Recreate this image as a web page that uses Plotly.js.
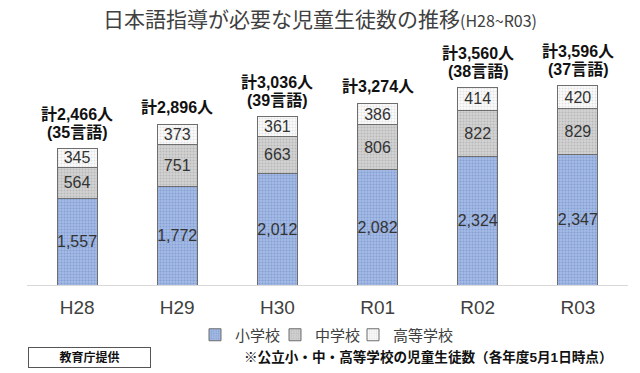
<!DOCTYPE html>
<html>
<head>
<meta charset="utf-8">
<script src="https://cdn.plot.ly/plotly-3.0.1.min.js"></script>
<style>html,body{margin:0;padding:0;background:#fff;}#chart{width:640px;height:373px;}</style>
</head>
<body>
<div id="chart"></div>
<script>
const years = ['H28', 'H29', 'H30', 'R01', 'R02', 'R03'];
const elementary = [1557, 1772, 2012, 2082, 2324, 2347];
const juniorHigh = [564, 751, 663, 806, 822, 829];
const highSchool = [345, 373, 361, 386, 414, 420];
const languages = [35, null, 39, null, 38, 37];
const seriesNames = ['小学校', '中学校', '高等学校'];

const totals = years.map((_, i) => elementary[i] + juniorHigh[i] + highSchool[i]);
const fmt = n => n.toLocaleString('en-US');

const FONT = 'Liberation Sans, Arial, Noto Sans CJK JP, sans-serif';
const lineStyle = {color: '#6e6e6e', width: 1};

function barTrace(name, vals, bg, fg, legendId) {
  return {
    type: 'bar', name: name, x: years, y: vals,
    width: 0.4, legend: legendId,
    text: vals.map(fmt), textposition: 'inside', insidetextanchor: 'middle',
    textangle: 0, constraintext: 'none',
    textfont: {family: FONT, size: 16, color: '#333333'},
    marker: {color: bg, line: lineStyle,
      pattern: {shape: '.', bgcolor: bg, fgcolor: fg, size: 3, solidity: 0.35}},
    hoverinfo: 'skip'
  };
}

const data = [
  barTrace(seriesNames[0], elementary, '#a3bbe6', '#869fd2', 'legend'),
  barTrace(seriesNames[1], juniorHigh, '#d4d4d4', '#b8b8b8', 'legend2'),
  barTrace(seriesNames[2], highSchool, '#fcfcfc', '#e2e2e2', 'legend3')
];

const annotations = [];
years.forEach((yr, i) => {
  const hasLang = languages[i] !== null;
  annotations.push({
    x: yr, y: totals[i], xref: 'x', yref: 'y',
    text: '計' + fmt(totals[i]) + '人', showarrow: false,
    yanchor: 'middle', yshift: hasLang ? 34 : 17,
    font: {family: FONT, size: 16, color: '#111111', weight: 'bold'}
  });
  if (hasLang) {
    annotations.push({
      x: yr, y: totals[i], xref: 'x', yref: 'y',
      text: '(' + languages[i] + '言語)', showarrow: false,
      yanchor: 'middle', yshift: 16,
      font: {family: FONT, size: 16, color: '#111111', weight: 'bold'}
    });
  }
});

annotations.push({
  xref: 'paper', yref: 'paper', x: (89.5 - 27) / 601, y: (285 - 357) / 222,
  xanchor: 'center', yanchor: 'middle', showarrow: false,
  text: '教育庁提供', width: 119, height: 17, borderpad: 1,
  bordercolor: '#555555', borderwidth: 1, bgcolor: '#ffffff',
  font: {family: FONT, size: 12, color: '#111111', weight: 'bold'}
});
annotations.push({
  xref: 'paper', yref: 'paper', x: (428.5 - 27) / 601, y: (285 - 357) / 222,
  xanchor: 'center', yanchor: 'middle', showarrow: false,
  text: '※公立小・中・高等学校の児童生徒数（各年度5月1日時点）',
  font: {family: FONT, size: 13.6, color: '#111111', weight: 'bold'}
});

function legendAt(px) {
  return {
    orientation: 'h', xref: 'container', yref: 'container',
    x: px / 640, y: 1 - 335 / 373, xanchor: 'left', yanchor: 'middle',
    font: {family: 'Noto Sans CJK JP, sans-serif', size: 15, color: '#404040'},
    itemwidth: 30, bgcolor: 'rgba(0,0,0,0)', borderwidth: 0
  };
}

const layout = {
  width: 640, height: 373,
  margin: {l: 27, r: 12, t: 63, b: 88, pad: 0},
  paper_bgcolor: '#ffffff', plot_bgcolor: '#ffffff',
  barmode: 'stack',
  title: {
    text: '日本語指導が必要な児童生徒数の推移<span style="font-size:16px">(H28~R03)</span>',
    x: 0.5, xref: 'container', xanchor: 'center',
    y: 1 - 20 / 373, yref: 'container', yanchor: 'middle',
    font: {family: 'Noto Sans CJK JP, sans-serif', size: 21, color: '#404040'}
  },
  xaxis: {
    type: 'category', range: [-0.5, 5.5],
    showline: true, linecolor: '#d9d9d9', linewidth: 1,
    ticks: '', ticklabelstandoff: 5,
    tickfont: {family: FONT, size: 19, color: '#404040'},
    showgrid: false, zeroline: false, fixedrange: true
  },
  yaxis: {
    range: [0, 4000], visible: false, showgrid: false, zeroline: false, fixedrange: true
  },
  showlegend: true,
  legend: legendAt(195),
  legend2: legendAt(275),
  legend3: legendAt(353),
  annotations: annotations
};

Plotly.newPlot('chart', data, layout, {displayModeBar: false, staticPlot: true});
</script>
</body>
</html>
